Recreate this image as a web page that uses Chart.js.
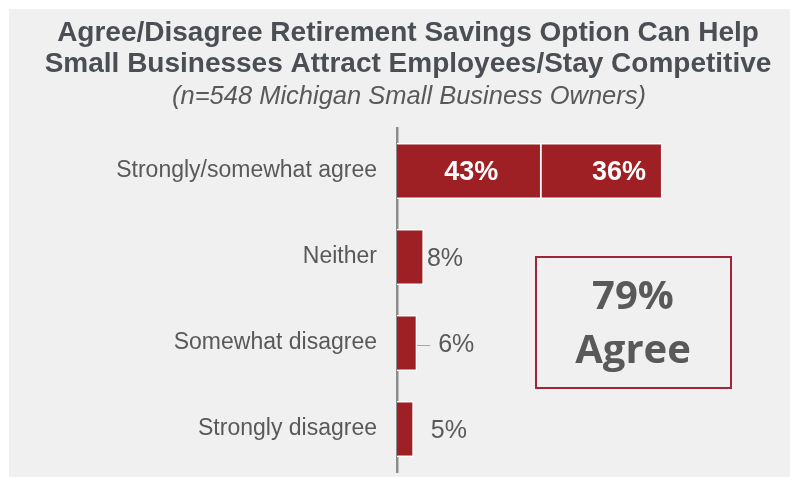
<!DOCTYPE html>
<html>
<head>
<meta charset="utf-8">
<script src="https://cdn.jsdelivr.net/npm/chart.js@4.4.1/dist/chart.umd.min.js"></script>
<style>
  html, body { margin: 0; padding: 0; background: #ffffff; overflow: hidden; }
  #wrap { position: relative; width: 790px; height: 477px; }
  #panel { position: absolute; left: 9px; top: 9px; right: 0; bottom: 0; background: #f0f0f0; }
  #box { position: absolute; left: 0; top: 0; width: 790px; height: 477px; }
</style>
</head>
<body>
<div id="wrap">
  <div id="panel"></div>
  <div id="box"><canvas id="chart"></canvas></div>
</div>
<script>
// chart data
const categories = ['Strongly/somewhat agree', 'Neither', 'Somewhat disagree', 'Strongly disagree'];
const mainValues = [43, 8, 6, 5];      // strongly agree / single bars
const extraValues = [36, 0, 0, 0];     // somewhat agree
const titleLines = ['Agree/Disagree Retirement Savings Option Can Help',
                    'Small Businesses Attract Employees/Stay Competitive'];
const subtitleText = '(n=548 Michigan Small Business Owners)';
const calloutLines = ['79%', 'Agree'];

const red = '#9e2024';
const grey = '#595959';

// titles drawn at fixed spots
const titlePlugin = {
    id: 'titleText',
    beforeDraw(chart) {
        const ctx = chart.ctx;
        ctx.save();
        ctx.fillStyle = '#4b4f54';
        ctx.textAlign = 'center';
        ctx.textBaseline = 'alphabetic';
        ctx.font = 'bold 28px "Liberation Sans", Arial, sans-serif';
        ctx.fillText(titleLines[0], 408, 41);
        ctx.fillText(titleLines[1], 408, 72);
        ctx.font = 'italic 25.5px "Liberation Sans", Arial, sans-serif';
        ctx.fillStyle = '#595959';
        ctx.fillText(subtitleText, 409, 104);
        ctx.restore();
    }
};

// value labels + leader line + callout box
const labelPlugin = {
    id: 'valueLabels',
    afterDatasetsDraw(chart) {
        const ctx = chart.ctx;
        const m0 = chart.getDatasetMeta(0);
        const m1 = chart.getDatasetMeta(1);
        ctx.save();
        ctx.textBaseline = 'middle';
        categories.forEach((c, i) => {
            const b0 = m0.data[i];
            if (extraValues[i] > 0) {
                const b1 = m1.data[i];
                ctx.fillStyle = '#ffffff';
                ctx.font = 'bold 27px "Liberation Sans", Arial, sans-serif';
                ctx.textAlign = 'center';
                ctx.fillText(mainValues[i] + '%', (b0.base + b0.x) / 2 + 2, b0.y + 2);
                ctx.fillText(extraValues[i] + '%', (b1.base + b1.x) / 2 + 17, b1.y + 2);
            } else {
                ctx.fillStyle = grey;
                ctx.font = '25px "Liberation Sans", Arial, sans-serif';
                ctx.textAlign = 'left';
                let x = b0.x + 3;
                if (i === 2) {
                    ctx.strokeStyle = '#a6a6a6';
                    ctx.lineWidth = 1;
                    ctx.beginPath();
                    ctx.moveTo(b0.x, b0.y + 2.5);
                    ctx.lineTo(b0.x + 13, b0.y + 2.5);
                    ctx.stroke();
                    x = b0.x + 21;
                } else if (i === 3) {
                    x = b0.x + 17;
                }
                ctx.fillText(mainValues[i] + '%', x, b0.y + 2);
            }
        });

        // callout box
        ctx.strokeStyle = '#a0243a';
        ctx.lineWidth = 2;
        ctx.strokeRect(536, 257, 195, 131);
        ctx.fillStyle = grey;
        ctx.textAlign = 'center';
        ctx.textBaseline = 'alphabetic';
        ctx.font = 'bold 40px "Open Sans", Calibri, sans-serif';
        ctx.fillText(calloutLines[0], 633, 309);
        ctx.fillText(calloutLines[1], 633, 363);
        ctx.restore();
    }
};

new Chart(document.getElementById('chart'), {
    type: 'bar',
    data: {
        labels: categories,
        datasets: [
            {
                data: mainValues,
                backgroundColor: red,
                borderColor: '#ffffff',
                borderWidth: 1.5,
                categoryPercentage: 1,
                barPercentage: 0.65
            },
            {
                data: extraValues,
                backgroundColor: red,
                borderColor: '#ffffff',
                borderWidth: 1.5,
                categoryPercentage: 1,
                barPercentage: 0.65
            }
        ]
    },
    options: {
        indexAxis: 'y',
        responsive: true,
        maintainAspectRatio: false,
        animation: false,
        layout: { autoPadding: false, padding: { top: 128, right: 57, bottom: 5, left: 0 } },
        plugins: {
            legend: { display: false },
            tooltip: { enabled: false },
            title: { display: false }
        },
        scales: {
            x: {
                stacked: true,
                display: false,
                min: 0,
                max: 100
            },
            y: {
                stacked: true,
                grid: { display: false, drawTicks: false },
                border: { display: true, color: '#8c8c8c', width: 2.5 },
                ticks: {
                    color: grey,
                    padding: 20,
                    font: { family: '"Liberation Sans", Arial, sans-serif', size: 23 }
                },
                afterFit(scale) {
                    scale.width = 397;
                    // the label padding otherwise eats space under the last row
                    scale.paddingTop = 0;
                    scale.paddingBottom = 0;
                }
            }
        }
    },
    plugins: [titlePlugin, labelPlugin]
});
</script>
</body>
</html>
